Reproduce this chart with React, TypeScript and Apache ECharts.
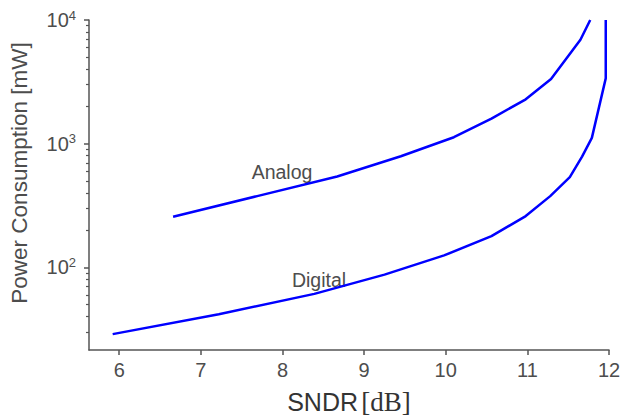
import React, { useEffect, useRef } from "react";
import * as echarts from "echarts";

const analogSndr = [6.66, 7.69, 8.67, 9.45, 10.1, 10.56, 10.98, 11.29, 11.65, 11.77];
const analogPower = [257, 377, 543, 792, 1128, 1595, 2285, 3333, 6918, 10000];
const digitalSndr = [5.92, 7.22, 8.39, 9.25, 9.98, 10.56, 10.98, 11.28, 11.52, 11.67, 11.79, 11.96, 11.96];
const digitalPower = [28.9, 41.9, 61.1, 87.5, 125, 179, 260, 377, 537, 787, 1114, 3373, 10000];
const xTicks = [6, 7, 8, 9, 10, 11, 12];
const yMajorTicks = [100, 1000, 10000];
const yMinorTicks = [30, 40, 50, 60, 70, 80, 90, 200, 300, 400, 500, 600, 700, 800, 900, 2000, 3000, 4000, 5000, 6000, 7000, 8000, 9000];

const SANS = "'Liberation Sans', Arial, Helvetica, sans-serif";
const TXT = "#4d4d4d";
const AXIS = "#555555";

export default function App() {
  const ref = useRef<HTMLDivElement>(null);
  useEffect(() => {
    if (!ref.current) return;
    const chart = echarts.init(ref.current, null, { renderer: "svg" });
    const analog = analogSndr.map((x, i) => [x, analogPower[i]]);
    const digital = digitalSndr.map((x, i) => [x, digitalPower[i]]);
    chart.setOption({
      animation: false,
      backgroundColor: "#ffffff",
      grid: { left: 80, right: 21, top: 20, bottom: 59, containLabel: false },
      xAxis: {
        type: "value",
        min: 5.63,
        max: 12,
        splitLine: { show: false },
        axisLine: { show: true, lineStyle: { color: AXIS, width: 1.5 } },
        axisTick: { show: true, length: 5, customValues: xTicks, lineStyle: { color: AXIS, width: 1.5 } },
        axisLabel: { customValues: xTicks, color: TXT, fontSize: 20, fontFamily: SANS, margin: 10 },
        name: "{a|SNDR} {b|[dB]}",
        nameLocation: "middle",
        nameGap: 38,
        nameTextStyle: {
          rich: {
            a: { fontFamily: SANS, fontSize: 25, color: "#333" },
            b: { fontFamily: "'Liberation Serif', 'DejaVu Serif', serif", fontSize: 27, color: "#333" },
          },
        },
      },
      yAxis: [
        {
          type: "log",
          logBase: 10,
          min: 21.5,
          max: 10000,
          position: "left",
          splitLine: { show: false },
          axisLine: { show: true, lineStyle: { color: AXIS, width: 1.5 } },
          axisTick: { show: true, length: 5, customValues: yMajorTicks, lineStyle: { color: AXIS, width: 1.5 } },
          axisLabel: {
            customValues: yMajorTicks,
            color: TXT,
            fontSize: 20,
            fontFamily: SANS,
            margin: 13,
            formatter: (v: number) => "10{sup|" + Math.round(Math.log10(v)) + "}",
            rich: {
              sup: { fontSize: 13, fontFamily: SANS, color: TXT, padding: [0, 0, 10, 0] },
            },
          },
          name: "Power Consumption [mW]",
          nameLocation: "middle",
          nameGap: 58,
          nameRotate: 90,
          nameTextStyle: { fontFamily: SANS, fontSize: 22.5, color: TXT, padding: [0, 0, 0, 24] },
        },
        {
          type: "log",
          logBase: 10,
          min: 21.5,
          max: 10000,
          position: "left",
          offset: 0,
          splitLine: { show: false },
          axisLine: { show: false },
          axisTick: { show: true, length: 3, customValues: yMinorTicks, lineStyle: { color: AXIS, width: 1.2 } },
          axisLabel: { show: false },
        },
      ],
      series: [
        {
          name: "Analog",
          type: "line",
          data: analog,
          symbol: "none",
          lineStyle: { color: "#0000ff", width: 2.5 },
          clip: true,
        },
        {
          name: "Digital",
          type: "line",
          data: digital,
          symbol: "none",
          lineStyle: { color: "#0000ff", width: 2.5 },
          clip: true,
        },
      ],
      graphic: [
        { type: "text", x: 282, y: 172, style: { text: "Analog", fontFamily: SANS, fontSize: 19.5, fill: TXT, align: "center", verticalAlign: "middle" } },
        { type: "text", x: 319, y: 280, style: { text: "Digital", fontFamily: SANS, fontSize: 19.5, fill: TXT, align: "center", verticalAlign: "middle" } },
      ],
    });
    return () => chart.dispose();
  }, []);
  return <div ref={ref} style={{ width: 630, height: 420, position: "absolute", left: 0, top: 0 }} />;
}
